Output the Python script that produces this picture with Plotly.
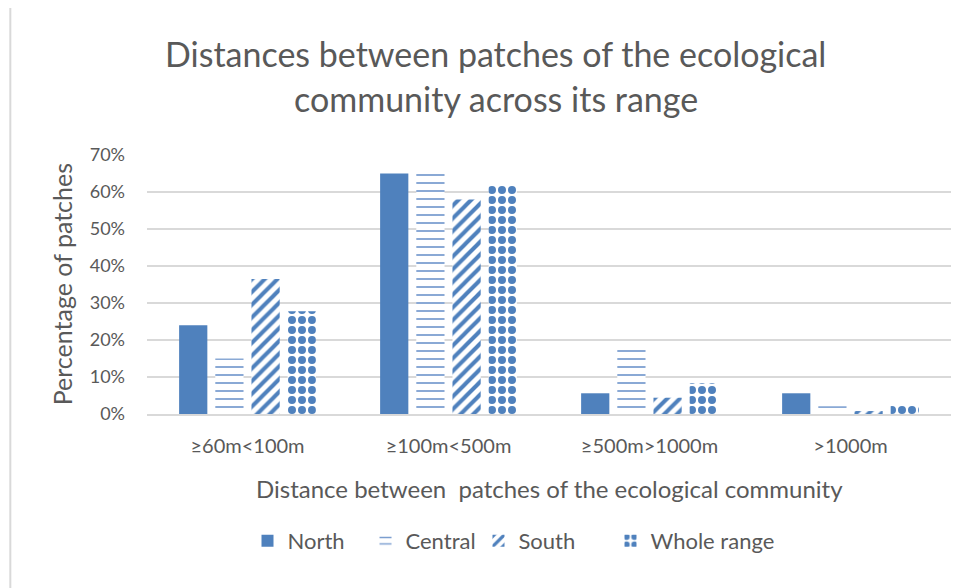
import plotly.graph_objects as go

categories = ["≥60m<100m", "≥100m<500m", "≥500m>1000m", ">1000m"]
north = [0.24, 0.65, 0.056, 0.056]
central = [0.15, 0.65, 0.173, 0.021]
south = [0.365, 0.58, 0.044, 0.008]
whole = [0.278, 0.62, 0.083, 0.024]
y_ticks = [0, 0.1, 0.2, 0.3, 0.4, 0.5, 0.6, 0.7]

BLUE = "#4F81BD"
TXT = "#595959"
FONT = "Lato"

def pat(shape, color, size, solidity):
    return dict(shape=shape, fgcolor=color, bgcolor="white", size=size,
                solidity=solidity, fillmode="replace", fgopacity=1)

fig = go.Figure()
fig.add_trace(go.Bar(name="North", x=categories, y=north, legend="legend",
                     marker=dict(color=BLUE, line=dict(width=0))))
fig.add_trace(go.Bar(name="Central", x=categories, y=central, legend="legend2",
                     marker=dict(color="#7A9DCF", line=dict(width=0),
                                 pattern=pat("-", "#7A9DCF", 8, 0.22))))
fig.add_trace(go.Bar(name="South", x=categories, y=south, legend="legend3",
                     marker=dict(color=BLUE, line=dict(width=0),
                                 pattern=pat("/", BLUE, 9, 0.45))))
fig.add_trace(go.Bar(name="Whole range", x=categories, y=whole, legend="legend4",
                     marker=dict(color=BLUE, line=dict(width=0),
                                 pattern=pat(".", BLUE, 10, 0.5))))

def leg(x):
    return dict(orientation="h", x=x, xanchor="left", y=-0.49, yanchor="middle",
                font=dict(size=22, color=TXT), itemwidth=30, bgcolor="rgba(0,0,0,0)")

fig.update_layout(
    width=958, height=580,
    paper_bgcolor="white", plot_bgcolor="white",
    margin=dict(l=139, r=15, t=147, b=174, autoexpand=False),
    barmode="group", bargap=0.28, bargroupgap=0.22,
    font=dict(family=FONT, color=TXT, size=18),
    showlegend=True,
    legend=leg(0.125), legend2=leg(0.2718), legend3=leg(0.4123), legend4=leg(0.5765),
    yaxis=dict(range=[0, 0.7], tickvals=y_ticks, tickformat=".0%",
               showgrid=True, gridcolor="#D9D9D9", gridwidth=2,
               zeroline=False, showline=False, ticklabelstandoff=21,
               tickfont=dict(size=18, color=TXT)),
    xaxis=dict(showline=True, linecolor="#D9D9D9", linewidth=2,
               ticks="", ticklabelstandoff=13, tickfont=dict(size=20, color=TXT)),
    annotations=[
        dict(text="Distances between patches of the ecological", x=0.434, xref="paper",
             y=1.393, yref="paper", showarrow=False, xanchor="center", yanchor="middle",
             font=dict(size=34, color=TXT)),
        dict(text="community across its range", x=0.434, xref="paper",
             y=1.219, yref="paper", showarrow=False, xanchor="center", yanchor="middle",
             font=dict(size=34, color=TXT)),
        dict(text="Percentage of patches", x=-0.106, xref="paper", y=0.5, yref="paper",
             textangle=-90, showarrow=False, xanchor="center", yanchor="middle",
             font=dict(size=25, color=TXT)),
        dict(text="Distance between  patches of the ecological community", x=0.50, xref="paper",
             y=-0.286, yref="paper", showarrow=False, xanchor="center", yanchor="middle",
             font=dict(size=24, color=TXT)),
    ],
    shapes=[dict(type="line", xref="paper", yref="paper", x0=-0.17, x1=-0.17, y0=-1, y1=2,
                 line=dict(color="#D9D9D9", width=2))],
)

fig.write_html("out.html")
